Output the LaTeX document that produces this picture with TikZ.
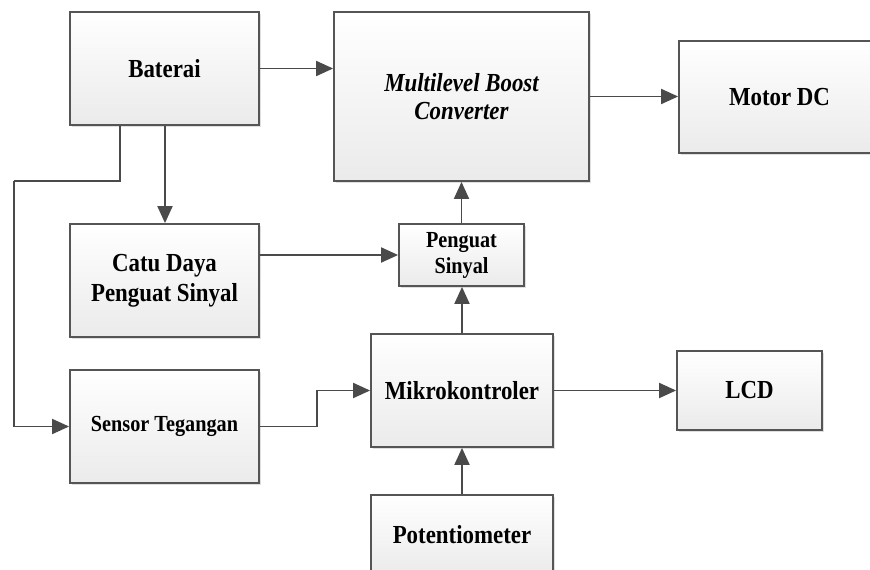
\documentclass[tikz,border=0pt]{standalone}
\usepackage{fontspec}
\setmainfont{Liberation Serif}[FakeStretch=0.88]
\usetikzlibrary{arrows.meta,shadows,calc}
\definecolor{edge}{HTML}{555555}
\definecolor{linec}{HTML}{4A4A4A}
\tikzset{
  blk/.style={draw=edge, line width=1.8pt, top color=white, bottom color=gray!16,
    drop shadow={shadow xshift=2pt, shadow yshift=-2pt, opacity=0.25, fill=gray},
    align=center, inner sep=0pt, font=\fontsize{26}{29}\selectfont\bfseries},
  smallblk/.style={blk, font=\fontsize{23}{26}\selectfont\bfseries},
  conn/.style={draw=linec, line width=1.9pt, -{Triangle[length=17pt,width=15pt]}},
  plain/.style={draw=linec, line width=1.9pt}
}
\begin{document}
\begin{tikzpicture}[x=1pt,y=-1pt]
\useasboundingbox (0,0) rectangle (870,570);
\clip (0,0) rectangle (870,570);
\fill[white] (0,0) rectangle (870,570);
\node[blk, minimum width=189pt, minimum height=113pt] (bat) at (164.5,68.5) {Baterai};
\node[blk, minimum width=255pt, minimum height=169pt, font=\fontsize{26}{28}\selectfont\bfseries\itshape] (mbc) at (461.5,96.5) {Multilevel Boost\\Converter};
\node[blk, minimum width=221pt, minimum height=112pt] (mot) at (789.5,97) {\hspace*{-20pt}Motor DC};
\node[smallblk, minimum width=125pt, minimum height=62pt] (pen) at (461.5,255) {Penguat\\Sinyal};
\node[blk, minimum width=189pt, minimum height=113pt, font=\fontsize{26}{30}\selectfont\bfseries] (catu) at (164.5,280.5) {Catu Daya\\Penguat Sinyal};
\node[smallblk, minimum width=189pt, minimum height=113pt] (sen) at (164.5,426.5) {Sensor Tegangan};
\node[blk, minimum width=182pt, minimum height=113pt] (mik) at (462,390.5) {Mikrokontroler};
\node[blk, minimum width=145pt, minimum height=79pt] (lcd) at (749.5,390.5) {LCD};
\node[blk, minimum width=182pt, minimum height=80pt] (pot) at (462,535) {Potentiometer};
\coordinate (j1) at (120,181);
\coordinate (j2) at (14,181);
\draw[conn] (bat.east) -- (bat.east -| mbc.west);
\draw[conn] (mbc.east) -- (mbc.east -| mot.west);
\draw[conn] (bat.south -| 165,0) -- (catu.north -| 165,0);
\draw[plain] (bat.south -| j1) -- (j1) -- (j2);
\draw[conn] (j2) |- (sen.west);
\draw[conn] (catu.east |- pen.west) -- (pen.west);
\draw[conn] (pen.north) -- (mbc.south -| pen.north);
\draw[conn] (mik.north) -- (pen.south -| mik.north);
\draw[conn] (sen.east) -- ++(57,0) |- (mik.west);
\draw[conn] (mik.east) -- (lcd.west);
\draw[conn] (pot.north) -- (mik.south);
\end{tikzpicture}
\end{document}
